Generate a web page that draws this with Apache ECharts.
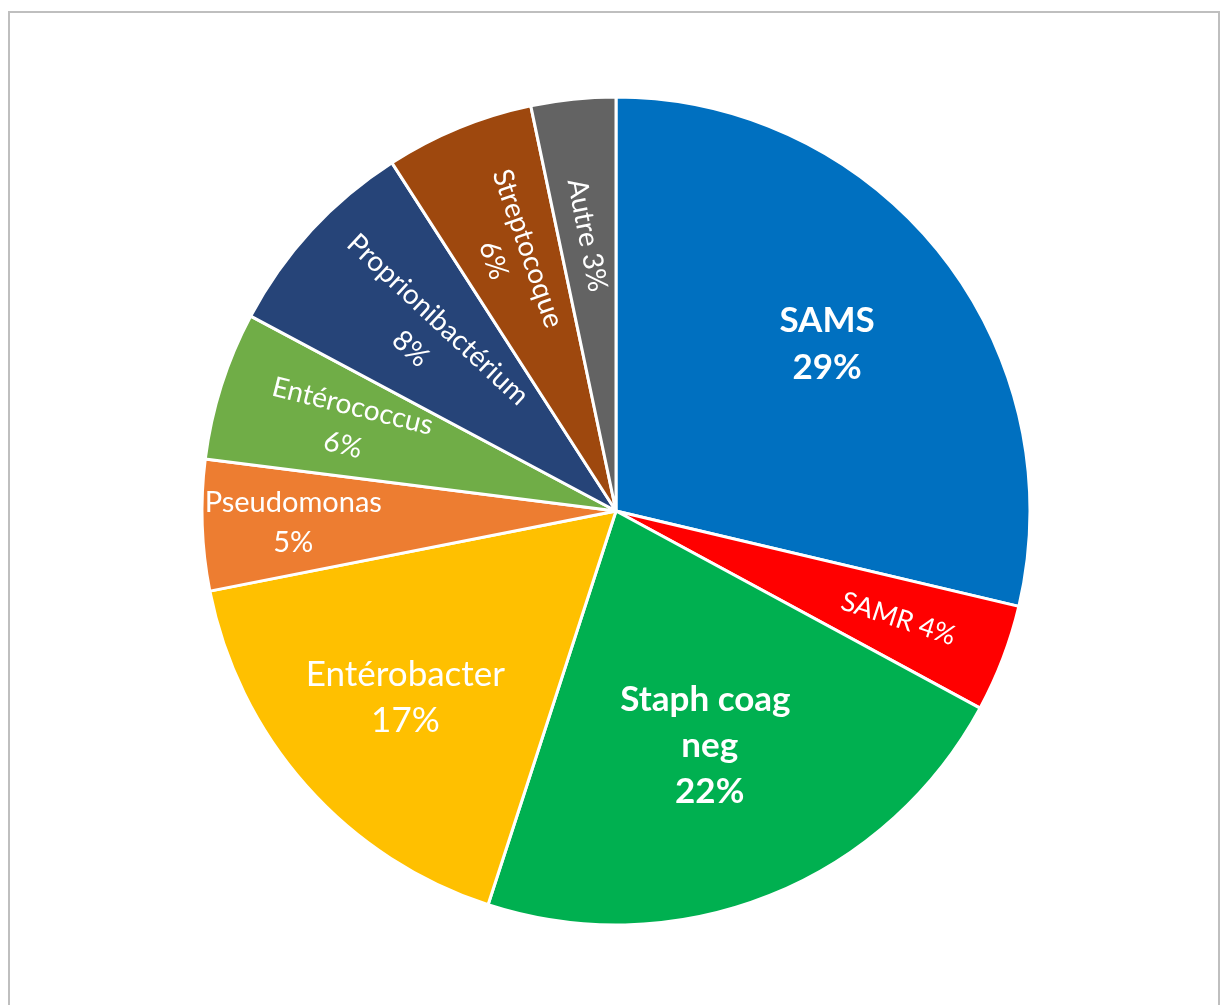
<!DOCTYPE html>
<html>
<head>
<meta charset="utf-8">
<style>
html,body{margin:0;padding:0;background:#fff;}
#chart{width:1220px;height:1005px;}
</style>
<script src="https://cdn.jsdelivr.net/npm/echarts@6/dist/echarts.min.js"></script>
</head>
<body>
<div id="chart"></div>
<script>
// ---- data ----
const categories = ['SAMS', 'SAMR', 'Staph coag neg', 'Entérobacter', 'Pseudomonas', 'Entérococcus', 'Proprionibactérium', 'Streptocoque', 'Autre'];
const shares = [28.7, 4.2, 22.1, 16.9, 5.1, 5.8, 8.1, 5.8, 3.3];
const colors = ['#0070C0', '#FF0000', '#00B050', '#FFC000', '#ED7D31', '#70AD47', '#264478', '#9E480E', '#636363'];

// ---- label styling (not data) ----
const CX = 616, CY = 511, R = 414;
const labelStyle = {
  'SAMS':               { size: 35, bold: true,  lh: 47, rot: 0,   sep: '\n', rad: 0.65 },
  'SAMR':               { size: 27, bold: false, lh: 30, rot: -18, sep: ' ',  rad: 0.73 },
  'Staph coag neg':     { size: 35, bold: true,  lh: 46, rot: 0,   sep: '\n', rad: 0.61, width: 200 },
  'Entérobacter':       { size: 35, bold: false, lh: 46, rot: 0,   sep: '\n', rad: 0.68 },
  'Pseudomonas':        { size: 29, bold: false, lh: 40, rot: 0,   sep: '\n', rad: 0.78 },
  'Entérococcus':       { size: 28, bold: false, lh: 40, rot: -14, sep: '\n', rad: 0.68 },
  'Proprionibactérium': { size: 28, bold: false, lh: 40, rot: -43, sep: '\n', rad: 0.63 },
  'Streptocoque':       { size: 28, bold: false, lh: 36, rot: -71, sep: '\n', rad: 0.67 },
  'Autre':              { size: 28, bold: false, lh: 30, rot: -79, sep: ' ',  rad: 0.67 }
};

const data = categories.map((name, i) => {
  const st = labelStyle[name];
  return {
    name: name,
    value: shares[i],
    itemStyle: { color: colors[i] },
    label: {
      fontSize: st.size,
      fontWeight: st.bold ? 'bold' : 'normal',
      lineHeight: st.lh,
      rotate: st.rot,
      width: st.width,
      overflow: st.width ? 'break' : 'none',
      formatter: '{b}' + st.sep + '{d}%'
    }
  };
});

const chart = echarts.init(document.getElementById('chart'), null, { renderer: 'canvas' });
chart.setOption({
  backgroundColor: '#ffffff',
  animation: false,
  graphic: [{
    type: 'rect',
    shape: { x: 9, y: 12, width: 1210, height: 1010 },
    style: { fill: 'none', stroke: '#BFBFBF', lineWidth: 2 },
    silent: true
  }],
  series: [{
    type: 'pie',
    center: [CX, CY],
    radius: R,
    startAngle: 90,
    clockwise: true,
    percentPrecision: 0,
    avoidLabelOverlap: false,
    itemStyle: { borderColor: '#ffffff', borderWidth: 3 },
    label: {
      show: true,
      position: 'inside',
      color: '#ffffff',
      fontFamily: 'Lato',
      align: 'center',
      verticalAlign: 'middle'
    },
    labelLine: { show: false },
    emphasis: { disabled: true },
    labelLayout: function (params) {
      const st = labelStyle[categories[params.dataIndex]];
      const lay = chart.getModel().getSeriesByIndex(0).getData().getItemLayout(params.dataIndex);
      if (!lay) return {};
      const mid = (lay.startAngle + lay.endAngle) / 2;
      const rr = st.rad * lay.r;
      return { x: lay.cx + rr * Math.cos(mid), y: lay.cy + rr * Math.sin(mid), align: 'center', verticalAlign: 'middle' };
    },
    data: data
  }]
});
</script>
</body>
</html>
